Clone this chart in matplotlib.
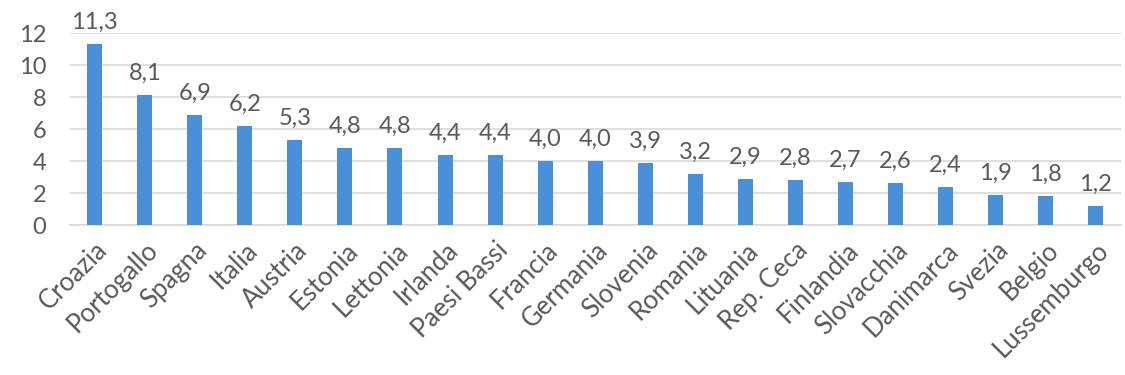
import matplotlib
matplotlib.use("Agg")
import matplotlib.pyplot as plt
import numpy as np

plt.rcParams["font.family"] = ["Lato", "DejaVu Sans"]

countries = ["Croazia", "Portogallo", "Spagna", "Italia", "Austria", "Estonia",
             "Lettonia", "Irlanda", "Paesi Bassi", "Francia", "Germania", "Slovenia",
             "Romania", "Lituania", "Rep. Ceca", "Finlandia", "Slovacchia",
             "Danimarca", "Svezia", "Belgio", "Lussemburgo"]
values = [11.3, 8.1, 6.9, 6.2, 5.3, 4.8, 4.8, 4.4, 4.4, 4.0, 4.0, 3.9,
          3.2, 2.9, 2.8, 2.7, 2.6, 2.4, 1.9, 1.8, 1.2]
yticks = [0, 2, 4, 6, 8, 10, 12]

BAR = "#4A90D9"
TEXT = "#595959"
GRID = "#D9D9D9"

fig = plt.figure(figsize=(11.25, 3.75), dpi=100)
ax = fig.add_axes([0.062, 0.4, 0.934, 0.512])

x = np.arange(len(countries))
bars = ax.bar(x, values, width=0.3, color=BAR, zorder=3)

for xi, v in zip(x, values):
    ax.text(xi, v + 0.7, f"{v:.1f}".replace(".", ","), ha="center", va="bottom",
            fontsize=17, color=TEXT)

ax.set_xlim(-0.5, len(countries) - 0.5)
ax.set_ylim(0, 12)
ax.set_yticks(yticks)
ax.set_yticklabels([str(t) for t in yticks], fontsize=17, color=TEXT)
ax.set_xticks(x)
ax.set_xticklabels(countries, rotation=45, ha="right", rotation_mode="anchor",
                   fontsize=18.5, color=TEXT)
ax.tick_params(axis="both", length=0)
ax.tick_params(axis="y", pad=17)
ax.tick_params(axis="x", pad=9)

ax.yaxis.grid(True, color=GRID, linewidth=1.2, zorder=0)
for s in ["top", "right", "left"]:
    ax.spines[s].set_visible(False)
ax.spines["bottom"].set_color(GRID)
ax.spines["bottom"].set_linewidth(1.2)

fig.savefig("out.png", dpi=100)
